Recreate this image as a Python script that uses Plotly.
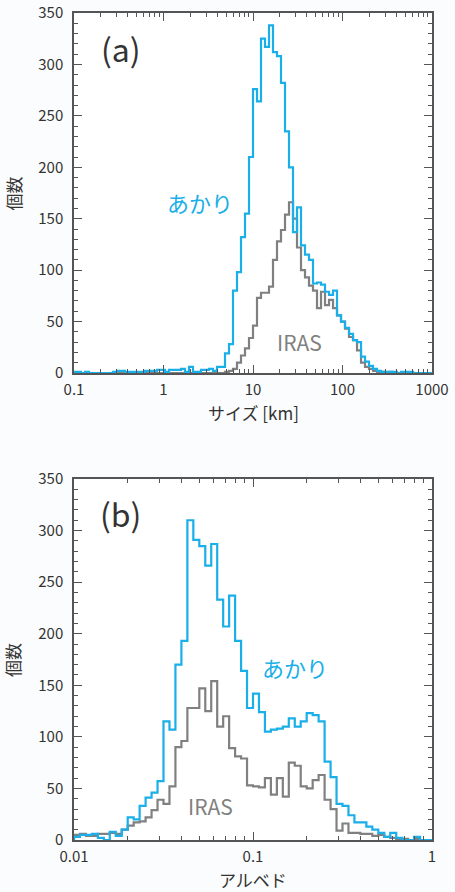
import numpy as np
import plotly.graph_objects as go

# ---------------- data ----------------
# (a) size histogram: log-spaced bins (log10 km)
size_log_start = -1.0115
size_log_width = 0.0447
akari_size_counts = [
    1, 1, 0, 1, 0, 0, 0, 0, 0, 0,
    1, 2, 2, 1, 1, 1, 1, 1, 2, 2,
    2, 3, 3, 1, 3, 3, 3, 4, 1, 6,
    1, 1, 3, 3, 4, 2, 6, 6, 19, 28,
    80, 98, 132, 155, 210, 276, 264, 325, 317, 338,
    312, 308, 282, 235, 200, 137, 161, 124, 115, 110,
    87, 88, 86, 79, 76, 80, 56, 50, 44, 38,
    32, 30, 16, 11, 7, 4, 2, 1, 1, 1,
    1, 0, 1, 1, 1, 0, 0, 0, 0, 0,
]
iras_size_counts = [
    0, 0, 0, 0, 0, 0, 0, 0, 0, 0,
    0, 0, 0, 0, 0, 0, 0, 0, 0, 0,
    0, 0, 0, 0, 0, 0, 0, 0, 0, 0,
    0, 0, 0, 0, 0, 0, 0, 0, 1, 2,
    4, 10, 17, 24, 34, 46, 73, 78, 78, 84,
    110, 128, 139, 154, 166, 150, 122, 100, 93, 85,
    80, 63, 79, 66, 71, 63, 56, 50, 43, 35,
    32, 22, 10, 6, 4, 2, 1, 1, 0, 1,
    0, 0, 0, 0, 0, 0, 0, 0, 0, 0,
]

# (b) albedo histogram: 30 bins per decade from 0.01 to 1
albedo_log_start = -2.0
albedo_log_width = 1.0 / 30
akari_albedo_counts = [
    3, 5, 5, 6, 2, 0, 8, 4, 10, 22,
    20, 33, 41, 46, 57, 115, 107, 170, 193, 310,
    291, 285, 266, 287, 233, 207, 237, 193, 164, 128,
    142, 124, 105, 107, 108, 110, 118, 110, 115, 123,
    121, 115, 76, 61, 35, 33, 24, 17, 17, 13,
    10, 7, 3, 7, 2, 0, 0, 3, 0, 0,
]
iras_albedo_counts = [
    5, 6, 4, 4, 6, 6, 7, 6, 10, 14,
    17, 18, 22, 29, 39, 35, 52, 90, 96, 128,
    128, 147, 125, 154, 110, 120, 89, 81, 79, 53,
    52, 51, 60, 44, 60, 42, 75, 72, 52, 50,
    58, 63, 39, 30, 9, 16, 7, 7, 6, 6,
    4, 5, 3, 2, 1, 1, 0, 1, 0, 0,
]

size_ticks = [0.1, 1, 10, 100, 1000]
size_ticktext = ["0.1", "1", "10", "100", "1000"]
albedo_ticks = [0.01, 0.1, 1]
albedo_ticktext = ["0.01", "0.1", "1"]

BLUE = "#1aafe8"
GRAY = "#808080"
AX = "#555555"
TXT = "#333333"
FONT = "Noto Sans CJK JP"


def step_xy(log_start, log_width, counts):
    edges = 10 ** (log_start + log_width * np.arange(len(counts) + 1))
    x = [edges[0]] + list(edges[:-1]) + [edges[-1], edges[-1]]
    y = [0] + list(counts) + [counts[-1], 0]
    return x, y


fig = go.Figure()
for counts, color, xa, ya, ls, lw in [
    (iras_size_counts, GRAY, "x", "y", size_log_start, size_log_width),
    (akari_size_counts, BLUE, "x", "y", size_log_start, size_log_width),
    (iras_albedo_counts, GRAY, "x2", "y2", albedo_log_start, albedo_log_width),
    (akari_albedo_counts, BLUE, "x2", "y2", albedo_log_start, albedo_log_width),
]:
    x, y = step_xy(ls, lw, counts)
    fig.add_trace(go.Scatter(x=x, y=y, mode="lines", line=dict(color=color, width=2.2, shape="hv"),
                             xaxis=xa, yaxis=ya, showlegend=False, hoverinfo="skip"))


def minor_log(lo_exp, hi_exp):
    vals = []
    for e in range(lo_exp, hi_exp):
        for m in range(2, 10):
            vals.append(m * 10 ** e)
    return vals


common_axis = dict(showline=True, linecolor=AX, linewidth=1.5, mirror="ticks", ticks="inside",
                   tickcolor=AX, tickwidth=1.3, ticklen=8, showgrid=False, zeroline=False,
                   automargin=False, tickfont=dict(family=FONT, size=15, color=TXT))
xminor = dict(tickmode="array", ticks="inside", ticklen=4.5, tickcolor=AX, tickwidth=1.1)
yminor = dict(dtick=10, ticks="inside", ticklen=4.5, tickcolor=AX, tickwidth=1.1)

fig.update_layout(
    width=455, height=892,
    margin=dict(l=74, r=23, t=13, b=52),
    paper_bgcolor="#fbfcfd", plot_bgcolor="white",
    font=dict(family=FONT, color=TXT),
    xaxis=dict(common_axis, type="log", range=[-1, 3], domain=[0, 1], anchor="y",
               tickmode="array", tickvals=size_ticks, ticktext=size_ticktext,
               ticklabelstandoff=2, minor=dict(xminor, tickvals=minor_log(-1, 3))),
    yaxis=dict(common_axis, range=[0, 350], domain=[0.5647, 1], anchor="x", dtick=50,
               ticklabelstandoff=6, minor=yminor),
    xaxis2=dict(common_axis, type="log", range=[-2, 0], domain=[0, 1], anchor="y2",
                tickmode="array", tickvals=albedo_ticks, ticktext=albedo_ticktext,
                ticklabelstandoff=2, minor=dict(xminor, tickvals=minor_log(-2, 0))),
    yaxis2=dict(common_axis, range=[0, 350], domain=[0, 0.4365], anchor="x2", dtick=50,
                ticklabelstandoff=6, minor=yminor),
)

# axis titles
axis_titles = [
    ("サイズ [km]", 0.5, 0.5165, 0),
    ("アルベド", 0.5, -0.048, 0),
    ("個数", -0.17, 0.782, -90),
    ("個数", -0.17, 0.2177, -90),
]
for text, x, y, ang in axis_titles:
    fig.add_annotation(text=text, xref="paper", yref="paper", x=x, y=y, showarrow=False,
                       xanchor="center", yanchor="middle", textangle=ang,
                       font=dict(family=FONT, size=17, color=TXT))

annotations = [
    ("(a)", "x domain", "y domain", 0.131, 0.903, 32, TXT),
    ("あかり", "x domain", "y domain", 0.352, 0.475, 22, BLUE),
    ("IRAS", "x domain", "y domain", 0.631, 0.086, 21, GRAY),
    ("(b)", "x2 domain", "y2 domain", 0.131, 0.905, 32, TXT),
    ("あかり", "x2 domain", "y2 domain", 0.617, 0.479, 22, BLUE),
    ("IRAS", "x2 domain", "y2 domain", 0.380, 0.094, 21, GRAY),
]
for text, xr, yr, x, y, size, color in annotations:
    fig.add_annotation(text=text, xref=xr, yref=yr, x=x, y=y, showarrow=False,
                       xanchor="center", yanchor="middle",
                       font=dict(family=FONT, size=size, color=color))

fig.write_html("out.html", config={"displayModeBar": False},
               post_script="document.body.style.margin='0';document.body.style.background='#fbfcfd';")
